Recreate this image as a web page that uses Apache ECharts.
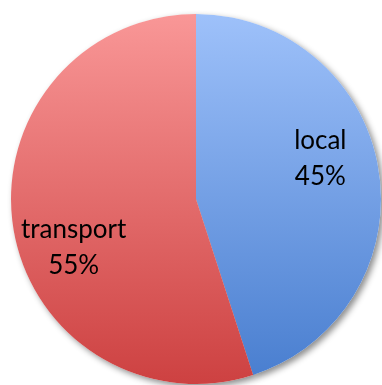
<!DOCTYPE html>
<html>
<head>
<meta charset="utf-8">
<script src="https://cdn.jsdelivr.net/npm/echarts@6/dist/echarts.min.js"></script>
<style>
  html, body { margin: 0; padding: 0; background: #fff; }
  #chart { width: 382px; height: 385px; }
</style>
</head>
<body>
<div id="chart"></div>
<script>
// Share of trips by type
const categories = ['local', 'transport'];
const shares = [45, 55];

// Slice fills: light at the top, deeper at the bottom
const topColors = ['#9ec1fa', '#f99797'];
const bottomColors = ['#4a7fd0', '#cd4141'];

// Label nudges from the default inside position (px)
const labelShift = [[30, -25], [-28, 34]];

const chart = echarts.init(document.getElementById('chart'), null, { renderer: 'canvas' });

const center = [196, 199];
const radius = 185;

const sliceData = categories.map((name, i) => ({
  name,
  value: shares[i],
  itemStyle: {
    color: new echarts.graphic.LinearGradient(0, 0, 0, 1, [
      { offset: 0, color: topColors[i] },
      { offset: 1, color: bottomColors[i] }
    ])
  }
}));

chart.setOption({
  animation: false,
  backgroundColor: '#ffffff',
  series: [
    {
      // soft drop shadow under the whole disc
      type: 'pie',
      silent: true,
      center,
      radius,
      startAngle: 90,
      clockwise: true,
      label: { show: false },
      labelLine: { show: false },
      itemStyle: {
        color: '#ffffff',
        shadowColor: 'rgba(0,0,0,0.45)',
        shadowBlur: 6,
        shadowOffsetX: 3,
        shadowOffsetY: 3
      },
      data: categories.map((name, i) => ({ name, value: shares[i] }))
    },
    {
      type: 'pie',
      center,
      radius,
      startAngle: 90,
      clockwise: true,
      avoidLabelOverlap: false,
      itemStyle: { borderWidth: 0 },
      label: {
        show: true,
        position: 'inside',
        formatter: p => p.name + '\n' + Math.round(p.percent) + '%',
        fontFamily: 'Lato',
        fontSize: 26,
        lineHeight: 36,
        color: '#000000',
        align: 'center'
      },
      labelLine: { show: false },
      labelLayout: p => ({ dx: labelShift[p.dataIndex][0], dy: labelShift[p.dataIndex][1] }),
      data: sliceData
    }
  ]
});
</script>
</body>
</html>
